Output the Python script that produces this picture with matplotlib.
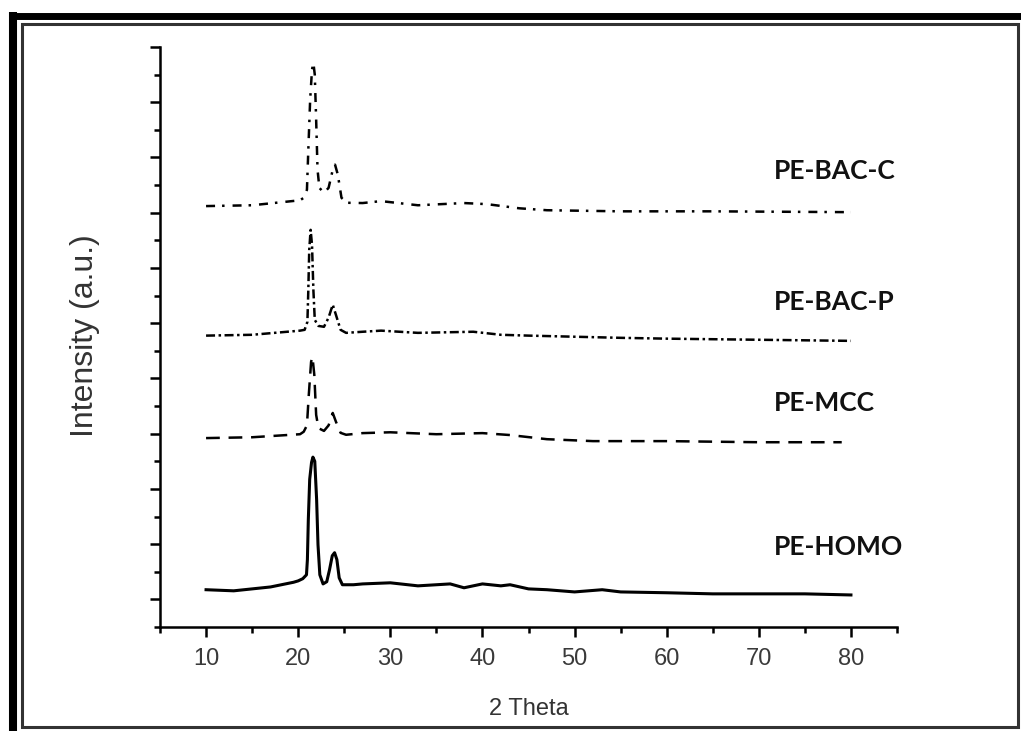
import numpy as np
import matplotlib.pyplot as plt
from matplotlib.lines import Line2D
from matplotlib.patches import Rectangle
from matplotlib.ticker import MultipleLocator, NullFormatter

# XRD patterns (2 theta, stacked intensity in a.u.)
homo_x = [10, 13, 17, 19.5, 20.0, 20.5, 20.9, 21.0, 21.1, 21.25, 21.45, 21.6, 21.8,
          22.0, 22.15, 22.35, 22.7, 23.1, 23.4, 23.7, 23.95, 24.2, 24.45, 24.8,
          26, 27, 30, 33, 36.5, 38, 40, 42, 43, 45, 47, 50, 53, 55, 60, 65, 70, 75, 80]
homo_y = [1.35, 1.31, 1.45, 1.62, 1.67, 1.75, 1.89, 2.44, 3.89, 5.35, 5.96, 6.15, 6.0,
          4.62, 2.98, 1.89, 1.56, 1.64, 2.07, 2.58, 2.69, 2.44, 1.78, 1.53,
          1.53, 1.56, 1.6, 1.49, 1.56, 1.42, 1.56, 1.49, 1.53, 1.38, 1.35, 1.27,
          1.35, 1.27, 1.24, 1.2, 1.2, 1.2, 1.16]

mcc_x = [10, 15, 20.2, 20.6, 20.95, 21.15, 21.4, 21.55, 21.75, 21.95, 22.2, 22.8,
         23.3, 23.75, 24.1, 24.6, 25.2, 27, 30, 35, 40, 43, 47, 52, 60, 70, 79]
mcc_y = [6.84, 6.87, 6.98, 7.07, 7.3, 8.4, 9.6, 9.78, 9.13, 7.68, 7.2, 7.1,
         7.3, 7.75, 7.43, 7.03, 6.96, 7.02, 7.05, 6.98, 7.02, 6.95, 6.8, 6.73, 6.73,
         6.69, 6.69]

bacp_x = [10, 15, 20.2, 20.7, 21.0, 21.1, 21.2, 21.35, 21.5, 21.65, 21.8, 22.2, 22.8,
          23.3, 23.75, 24.1, 24.6, 25.2, 27, 29, 33, 39, 42, 45, 50, 55, 60, 70, 80]
bacp_y = [10.55, 10.58, 10.73, 10.76, 11.05, 12.2, 13.66, 14.38, 13.84, 12.2, 11.12,
          10.9, 10.87, 11.2, 11.67, 11.3, 10.76, 10.65, 10.69, 10.73, 10.65, 10.69,
          10.58, 10.55, 10.51, 10.47, 10.44, 10.4, 10.36]

bacc_x = [10, 15, 20.2, 20.6, 20.95, 21.1, 21.3, 21.5, 21.65, 21.8, 21.95, 22.1, 22.3,
          22.8, 23.3, 23.7, 24.0, 24.3, 24.7, 25.3, 27, 29, 33, 38, 40.5, 44, 47, 55,
          65, 80]
bacc_y = [15.24, 15.27, 15.45, 15.54, 15.83, 17.28, 19.1, 20.18, 20.43, 20.0, 18.37,
          16.56, 15.9, 15.72, 15.9, 16.48, 16.74, 16.38, 15.54, 15.36, 15.35, 15.42,
          15.27, 15.35, 15.31, 15.16, 15.09, 15.05, 15.05, 15.02]

labels = ['PE-BAC-C', 'PE-BAC-P', 'PE-MCC', 'PE-HOMO']
label_x = 71.6
label_y = [16.5, 11.78, 8.12, 2.9]

fig = plt.figure(figsize=(10.21, 7.31), dpi=100)
ax = fig.add_axes([160/1021, 1-627/731, 737/1021, 580/731])

ax.plot(homo_x, homo_y, color='black', lw=2.2)
ax.plot(mcc_x, mcc_y, color='black', lw=1.8, linestyle=(0, (5.5, 3.5)))
ax.plot(bacp_x, bacp_y, color='black', lw=1.8, linestyle=(0, (3.6, 1.4, 1, 1.4)))
ax.plot(bacc_x, bacc_y, color='black', lw=1.8, linestyle=(0, (3.6, 2.8, 1, 3.2)))

for t, yy in zip(labels, label_y):
    ax.text(label_x, yy, t, fontsize=19, fontweight='bold', family='Lato',
            ha='left', va='center', color='#111111')

ax.set_xlim(5, 85)
ax.set_ylim(0, 21)
ax.set_xticks([10, 20, 30, 40, 50, 60, 70, 80])
ax.xaxis.set_minor_locator(MultipleLocator(10, offset=5))
ax.yaxis.set_major_locator(MultipleLocator(2, offset=1))
ax.yaxis.set_minor_locator(MultipleLocator(2))
ax.yaxis.set_major_formatter(NullFormatter())

for s in ['top', 'right']:
    ax.spines[s].set_visible(False)
for s in ['left', 'bottom']:
    ax.spines[s].set_linewidth(1.8)
ax.tick_params(which='major', direction='out', length=7, width=1.8,
               labelsize=17, labelcolor='#3a3a3a', pad=8)
ax.tick_params(which='minor', direction='out', length=4, width=1.8)
for lab in ax.get_xticklabels():
    lab.set_family('Liberation Sans')

ax.set_xlabel('2 Theta', fontsize=17, family='Liberation Sans', color='#333333', labelpad=20)
ax.set_ylabel('Intensity (a.u.)', fontsize=23, family='Liberation Sans', color='#333333',
              va='center')
ax.yaxis.set_label_coords(-0.102, 0.502)

# picture frame
fig.add_artist(Rectangle((22/1021, 1-727/731), 996/1021, 703/731, transform=fig.transFigure,
                         fill=False, edgecolor='#333333', lw=2.2))
fig.add_artist(Line2D([13/1021, 13/1021], [0, 1-12/731], transform=fig.transFigure,
                      color='black', lw=5.8, solid_capstyle='butt'))
fig.add_artist(Line2D([9/1021, 1], [1-15.5/731, 1-15.5/731], transform=fig.transFigure,
                      color='black', lw=5.0, solid_capstyle='butt'))

fig.savefig('out.png', dpi=100)
